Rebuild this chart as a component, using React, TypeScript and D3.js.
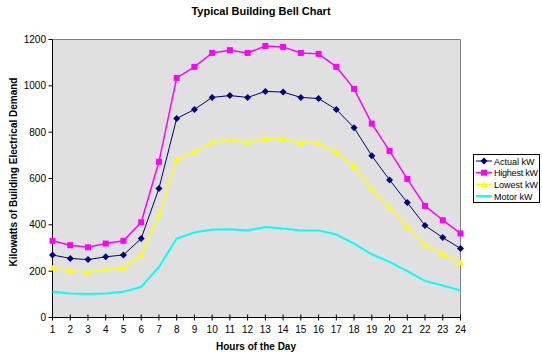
import React from 'react'
import * as d3 from 'd3'

const HOURS = d3.range(1, 25)
const ACTUAL = [270, 255, 250, 262, 270, 341, 557, 859, 898, 950, 958, 950, 976, 973, 950, 945, 898, 819, 698, 594, 496, 397, 345, 298]
const HIGHEST = [331, 312, 303, 319, 331, 411, 672, 1034, 1082, 1142, 1154, 1142, 1172, 1168, 1142, 1138, 1082, 987, 837, 719, 598, 482, 420, 363]
const LOWEST = [214, 201, 196, 207, 214, 268, 442, 683, 715, 758, 768, 758, 774, 770, 755, 751, 714, 653, 553, 475, 393, 312, 273, 236]
const MOTOR = [111, 104, 101, 104, 111, 132, 218, 341, 367, 380, 381, 376, 391, 384, 376, 376, 358, 319, 273, 240, 200, 158, 138, 117]
const Y_TICKS = [0, 200, 400, 600, 800, 1000, 1200]

const SERIES = [
  { name: 'Actual kW', values: ACTUAL, color: '#000080', width: 1, marker: 'diamond' },
  { name: 'Highest kW', values: HIGHEST, color: '#FF00FF', width: 1.5, marker: 'square' },
  { name: 'Lowest kW', values: LOWEST, color: '#FFFF00', width: 1.5, marker: 'triangle' },
  { name: 'Motor kW', values: MOTOR, color: '#00FFFF', width: 2, marker: null },
]

const FONT = '"Liberation Sans", Arial, sans-serif'

function Marker({ type, x, y, color }: { type: string | null; x: number; y: number; color: string }) {
  if (!type) return null
  if (type === 'diamond') {
    return <path d={`M${x},${y - 3.5}L${x + 3.5},${y}L${x},${y + 3.5}L${x - 3.5},${y}Z`} fill={color} />
  }
  if (type === 'square') {
    return <rect x={x - 3} y={y - 3} width={6} height={6} fill={color} />
  }
  return <path d={`M${x},${y - 3}L${x + 3.5},${y + 2.5}L${x - 3.5},${y + 2.5}Z`} fill={color} />
}

export default function App() {
  const left = 52.5
  const right = 460.5
  const top = 39.5
  const bottom = 317.5
  const x = d3.scaleLinear().domain([1, 24]).range([left, right])
  const y = d3.scaleLinear().domain([0, 1200]).range([bottom, top])
  const line = d3.line<number>().x((_, i) => x(HOURS[i])).y((d) => y(d))

  return (
    <svg width={542} height={359} style={{ position: 'absolute', left: 0, top: 0, background: '#fff' }} fontFamily={FONT}>
      <text x={261} y={15} textAnchor="middle" fontSize={11} fontWeight="bold">Typical Building Bell Chart</text>

      <rect x={left} y={top} width={right - left} height={bottom - top} fill="#E0E0E0" />
      <path d={`M${left},${top}H${right}V${bottom}`} fill="none" stroke="#808080" />
      <path d={`M${left},${top}V${bottom}H${right}`} fill="none" stroke="#000" />

      {Y_TICKS.map((t) => (
        <g key={t}>
          <line x1={left - 4} x2={left} y1={y(t)} y2={y(t)} stroke="#000" />
          <text x={46} y={y(t) + 3.5} textAnchor="end" fontSize={10}>{t}</text>
        </g>
      ))}
      {HOURS.map((h) => (
        <g key={h}>
          <line x1={x(h)} x2={x(h)} y1={bottom - 3} y2={bottom + 3} stroke="#000" />
          <text x={x(h)} y={333} textAnchor="middle" fontSize={10}>{h}</text>
        </g>
      ))}

      {SERIES.map((s) => (
        <g key={s.name}>
          <path d={line(s.values) || ''} fill="none" stroke={s.color} strokeWidth={s.width} />
          {s.values.map((v, i) => (
            <Marker key={i} type={s.marker} x={x(HOURS[i])} y={y(v)} color={s.color} />
          ))}
        </g>
      ))}

      <text x={256} y={350} textAnchor="middle" fontSize={10} fontWeight="bold">Hours of the Day</text>
      <text transform="translate(17,172) rotate(-90)" textAnchor="middle" fontSize={10} fontWeight="bold">Kilowatts of Building Electrical Demand</text>

      <rect x={473.5} y={154.5} width={66} height={48} fill="#fff" stroke="#000" />
      {SERIES.map((s, i) => {
        const ly = 161 + i * 11.7
        return (
          <g key={s.name}>
            <line x1={476} x2={492} y1={ly} y2={ly} stroke={s.color} strokeWidth={s.width} />
            <Marker type={s.marker} x={484} y={ly} color={s.color} />
            <text x={494} y={ly + 3.5} fontSize={9} textLength={s.name === 'Highest kW' ? 44 : undefined}>{s.name}</text>
          </g>
        )
      })}
    </svg>
  )
}
